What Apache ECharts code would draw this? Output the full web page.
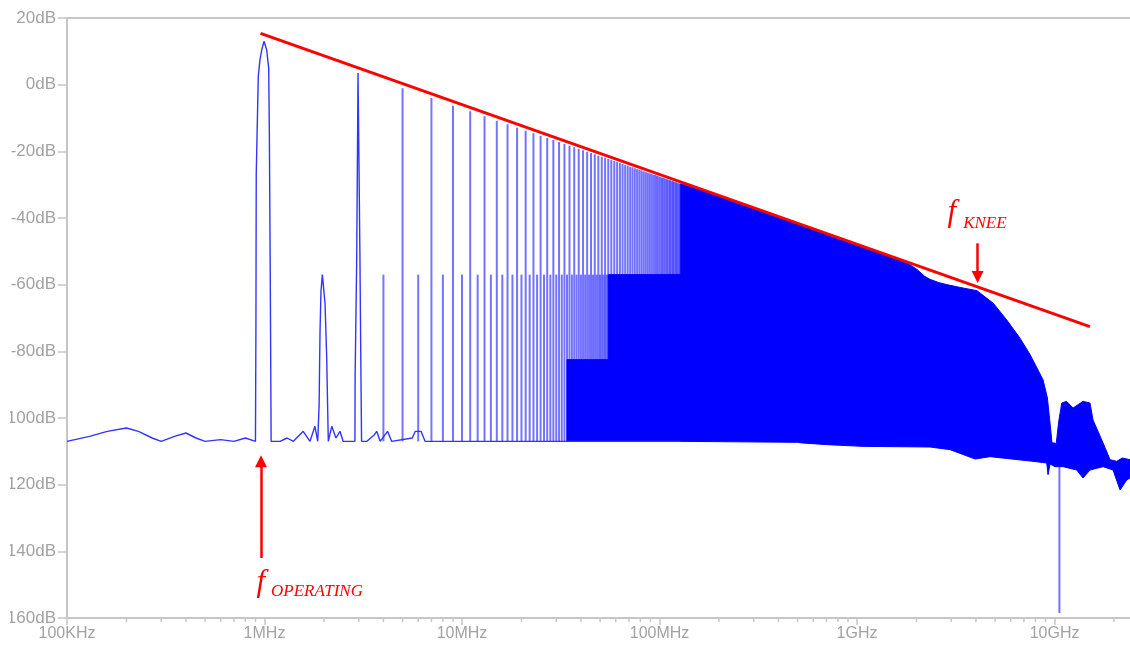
<!DOCTYPE html>
<html><head><meta charset="utf-8">
<script src="https://cdn.jsdelivr.net/npm/echarts@6/dist/echarts.min.js"></script>
<style>html,body{margin:0;padding:0;background:#fff}#c{width:1130px;height:645px}</style>
</head><body><div id="c"></div>
<script>
// ---- axis ticks ----
const xTickValuesHz = [1e5, 1e6, 1e7, 1e8, 1e9, 1e10];
const xTickLabels = ['100KHz', '1MHz', '10MHz', '100MHz', '1GHz', '10GHz'];
const xMinorTicksHz = [
  2e5,3e5,4e5,5e5,6e5,7e5,8e5,9e5,
  2e6,3e6,4e6,5e6,6e6,7e6,8e6,9e6,
  2e7,3e7,4e7,5e7,6e7,7e7,8e7,9e7,
  2e8,3e8,4e8,5e8,6e8,7e8,8e8,9e8,
  2e9,3e9,4e9,5e9,6e9,7e9,8e9,9e9,
  2e10
];
const xMinHz = 1e5, xMaxHz = 2.41e10;
const yMinDb = -160, yMaxDb = 20, yStepDb = 20;

// ---- noise floor + fundamental + 2nd/3rd harmonic shapes [MHz, dB] ----
const baseTrace = [
  [0.1,-107],[0.13,-105.5],[0.16,-104],[0.2,-103],[0.23,-104],[0.27,-106],[0.3,-107],
  [0.35,-105.5],[0.4,-104.5],[0.45,-106],[0.5,-107],[0.6,-106.5],[0.7,-107],[0.8,-106],[0.9,-107],
  [0.905,-70],[0.908,-27],[0.93,2.4],[0.948,7.4],[0.968,10.4],[0.994,13],[1.026,10.4],
  [1.05,4.9],[1.058,-14.5],[1.07,-60],[1.08,-107],
  [1.1,-106.5],[1.2,-107],[1.3,-106],[1.4,-107],[1.57,-104],[1.7,-107],[1.8,-102.5],[1.86,-107],
  [1.888,-107],[1.89,-96],[1.91,-74],[1.932,-62],[1.963,-57],[1.995,-57],[2.025,-65.6],
  [2.065,-82],[2.09,-98.5],[2.104,-107],
  [2.19,-102.5],[2.3,-106],[2.41,-104],[2.5,-107],[2.87,-107],
  [2.875,-88],[2.93,-52],[2.975,3.5],[3.01,3.5],[3.04,-50],[3.07,-80],[3.1,-107],
  [3.3,-107],[3.6,-105],[3.7,-104],[3.85,-107],[4.2,-104],[4.4,-107],[5.6,-106],[5.8,-104],
  [6.2,-104],[6.5,-107],[10,-107],[20,-107],[50,-107],[128,-107]
];

// ---- resolved harmonics (MHz) ----
const oddHarmonicMHz = [5,7,9,11,13,15,17,19,21,23,25,27,29,31,33,35,37,39,41,43,45,47,49,51,53,55,57,59,61,
  63,65,67,69,71,73,75,77,79,81,83,85,87,89,91,93,95,97,99,101,103,105,107,109,111,113,115,117,119,121,123,125,127];
const oddPeakDb = [-1.1,-4.0,-6.3,-8.0,-9.5,-10.8,-11.9,-12.9,-13.8,-14.6,-15.3,-16.0,-16.6,-17.2,
  -17.8,-18.3,-18.8,-19.3,-19.7,-20.1,-20.5,-20.9,-21.3,-21.6,-22.0,-22.3,-22.6,-22.9,-23.2,
  -23.5,-23.8,-24.1,-24.3,-24.6,-24.8,-25.1,-25.3,-25.5,-25.7,-26.0,-26.2,-26.4,-26.6,-26.8,
  -27.0,-27.1,-27.3,-27.5,-27.7,-27.9,-28.0,-28.2,-28.4,-28.5,-28.7,-28.8,-29.0,-29.1,-29.3,
  -29.4,-29.6,-29.7];
const evenHarmonicMHz = [4,6,8,10,12,14,16,18,20,22,24,26,28,30,32,34,36,38,40,42,44,46,48,50,52,54,56,58,60,
  62,64,66,68,70,72,74,76,78,80,82,84,86,88,90,92,94,96,98,100,102,104,106,108,110,112,114,116,118,120,122,124,126];
const evenHarmonicDb = -57;
const spikeFloorDb = -107;

// ---- merged skirts below the even-harmonic level, [MHz, dB] ----
const skirtTop = [[34,-82.5],[55,-82.5],[55,-57],[128,-57]];
const skirtBottom = [[34,-107],[128,-107]];

// ---- dense (unresolved) spectrum region, [GHz, dB] ----
const denseTop = [
  [0.128,-29.7],[0.2,-33.6],[0.5,-41.9],[1.0,-48.2],[1.6,-52.5],[1.79,-53.5],[2.0,-55.3],
  [2.2,-57.5],[2.34,-58.4],[2.6,-59.4],[2.86,-60.0],[3.3,-60.8],[4.05,-61.8],[4.9,-65.6],
  [5.73,-70.6],[6.69,-76.1],[7.52,-81],[8.15,-85],[8.75,-88.6],[9.2,-94],[9.49,-101.6],
  [9.71,-107.5],[10.06,-107.5],[10.18,-108],[10.5,-101],[10.88,-95.5],[11.5,-95],
  [12.41,-97],[13.94,-95],[15.12,-95.5],[15.66,-100.6],[17.61,-107.5],[19.1,-112.5],
  [20.65,-113],[22.0,-112],[24.12,-112.5]
];
const denseBottom = [
  [0.128,-107],[0.5,-107.3],[0.53,-107.5],[0.71,-108],[1.06,-108.5],[2.34,-108.7],[2.96,-109.5],
  [3.96,-112.3],[4.72,-111.6],[7.78,-113],[9.13,-113.5],[9.27,-117],[9.49,-113.8],[10.06,-114.6],
  [11.04,-114.6],[12.95,-115.6],[13.94,-118],[15.12,-115.6],[17.61,-114.6],[19.78,-115.6],
  [21.46,-121.6],[23.2,-118.6],[24.12,-118]
];
const nullSpike = [[10.58, -114, -158.5]]; // [GHz, from dB, to dB]

// ---- annotations ----
const envelopeLine = [[0.955e6, 15.4], [1.51e10, -72.6]];
const operatingArrow = [[0.96e6, -142], [0.96e6, -113]];
const kneeArrow = [[4.08e9, -47.6], [4.08e9, -57.7]];
const annotationTexts = [
  {text: 'f', at: [0.912e6, -149.5], size: 31},
  {text: 'OPERATING', at: [1.079e6, -152], size: 17},
  {text: 'f', at: [2.87e9, -38.5], size: 31},
  {text: 'KNEE', at: [3.445e9, -41.8], size: 17}
];

const MHz = 1e6, GHz = 1e9;
const traceBlue = '#0000ff';
const spikeBlue = 'rgba(0,0,255,0.55)';
const axisGray = '#c6c6c6';
const labelGray = '#a2a2a2';

const spikeData = []
  .concat(evenHarmonicMHz.map(f => [f * MHz, spikeFloorDb, evenHarmonicDb]))
  .concat(oddHarmonicMHz.map((f, i) => [f * MHz, spikeFloorDb, oddPeakDb[i]]))
  .concat(nullSpike.map(s => [s[0] * GHz, s[1], s[2]]));

function polygonSeries(name, top, bottom, unit, z) {
  return {
    name: name, type: 'custom', xAxisIndex: 0, z: z,
    data: [[top[0][0] * unit, top[0][1]]],
    encode: {x: 0, y: 1},
    renderItem: (params, api) => {
      const pts = top.map(p => api.coord([p[0] * unit, p[1]]))
        .concat(bottom.slice().reverse().map(p => api.coord([p[0] * unit, p[1]])));
      return {type: 'polygon', shape: {points: pts}, style: {fill: traceBlue, stroke: traceBlue, lineWidth: 1}};
    }
  };
}

const chart = echarts.init(document.getElementById('c'));
chart.setOption({
  animation: false,
  backgroundColor: '#fff',
  grid: {left: 67, right: 0, top: 18, bottom: 27, containLabel: false, outerBoundsMode: 'none'},
  xAxis: [{
    type: 'log', logBase: 10, min: xMinHz, max: xMaxHz,
    axisLine: {show: true, onZero: false, lineStyle: {color: axisGray, width: 2}},
    axisTick: {show: true, length: 7, lineStyle: {color: axisGray, width: 1.5}},
    splitLine: {show: false},
    axisLabel: {
      color: labelGray, fontSize: 16, fontFamily: 'Liberation Sans', margin: 8,
      showMaxLabel: false,
      formatter: v => {
        const i = xTickValuesHz.findIndex(t => Math.abs(Math.log10(t) - Math.log10(v)) < 1e-6);
        return i >= 0 ? xTickLabels[i] : '';
      }
    }
  }, {
    type: 'value', position: 'top', min: 0, max: 1,
    axisLine: {show: true, onZero: false, lineStyle: {color: axisGray, width: 2}},
    axisTick: {show: false}, axisLabel: {show: false}, splitLine: {show: false}
  }],
  yAxis: {
    type: 'value', min: yMinDb, max: yMaxDb, interval: yStepDb,
    axisLine: {show: true, onZero: false, lineStyle: {color: axisGray, width: 2}},
    axisTick: {show: true, length: 9, lineStyle: {color: axisGray, width: 1.5}},
    splitLine: {show: false},
    axisLabel: {color: labelGray, fontSize: 17, fontFamily: 'Liberation Sans', margin: 11,
      formatter: v => v + 'dB'}
  },
  graphic: [{type: 'rect', left: 0, top: 0, shape: {width: 10, height: 645}, style: {fill: '#fff'}, z: 100}],
  series: [
    polygonSeries('dense', denseTop, denseBottom, GHz, 2),
    polygonSeries('skirts', skirtTop, skirtBottom, MHz, 2),
    {
      name: 'harmonics', type: 'custom', xAxisIndex: 0, z: 3,
      data: spikeData, encode: {x: 0, y: [1, 2]},
      renderItem: (params, api) => {
        const a = api.coord([api.value(0), api.value(1)]);
        const b = api.coord([api.value(0), api.value(2)]);
        return {type: 'line', shape: {x1: a[0], y1: a[1], x2: b[0], y2: b[1]},
          style: {stroke: spikeBlue, lineWidth: 2}};
      }
    },
    {
      name: 'trace', type: 'line', xAxisIndex: 0, z: 4,
      data: baseTrace.map(p => [p[0] * MHz, p[1]]),
      showSymbol: false, symbol: 'none',
      lineStyle: {color: '#3333ff', width: 1.4}
    },
    {
      name: 'minorTicks', type: 'custom', xAxisIndex: 0, clip: false, silent: true, z: 5,
      data: xMinorTicksHz.map(f => [f, yMinDb]), encode: {x: 0, y: 1},
      renderItem: (params, api) => {
        const p = api.coord([api.value(0), yMinDb]);
        return {type: 'line', shape: {x1: p[0], y1: p[1], x2: p[0], y2: p[1] + 4},
          style: {stroke: axisGray, lineWidth: 1.5}};
      }
    },
    {
      name: 'envelope', type: 'line', xAxisIndex: 0, z: 10,
      data: envelopeLine, showSymbol: false, symbol: 'none',
      lineStyle: {color: '#ff0000', width: 3},
      markLine: {
        silent: true, symbol: ['none', 'triangle'], symbolSize: 12, animation: false,
        lineStyle: {color: '#ff0000', width: 2.5, type: 'solid'},
        label: {show: false},
        data: [
          [{coord: operatingArrow[0]}, {coord: operatingArrow[1]}],
          [{coord: kneeArrow[0]}, {coord: kneeArrow[1]}]
        ]
      },
      markPoint: {
        silent: true, symbol: 'circle', symbolSize: 0, animation: false,
        data: annotationTexts.map(t => ({
          coord: t.at,
          label: {show: true, position: 'inside', formatter: t.text, align: 'left', verticalAlign: 'middle',
            color: '#ff0000', fontSize: t.size, fontStyle: 'italic', fontFamily: 'Liberation Serif'}
        }))
      }
    }
  ]
});
</script>
</body></html>
